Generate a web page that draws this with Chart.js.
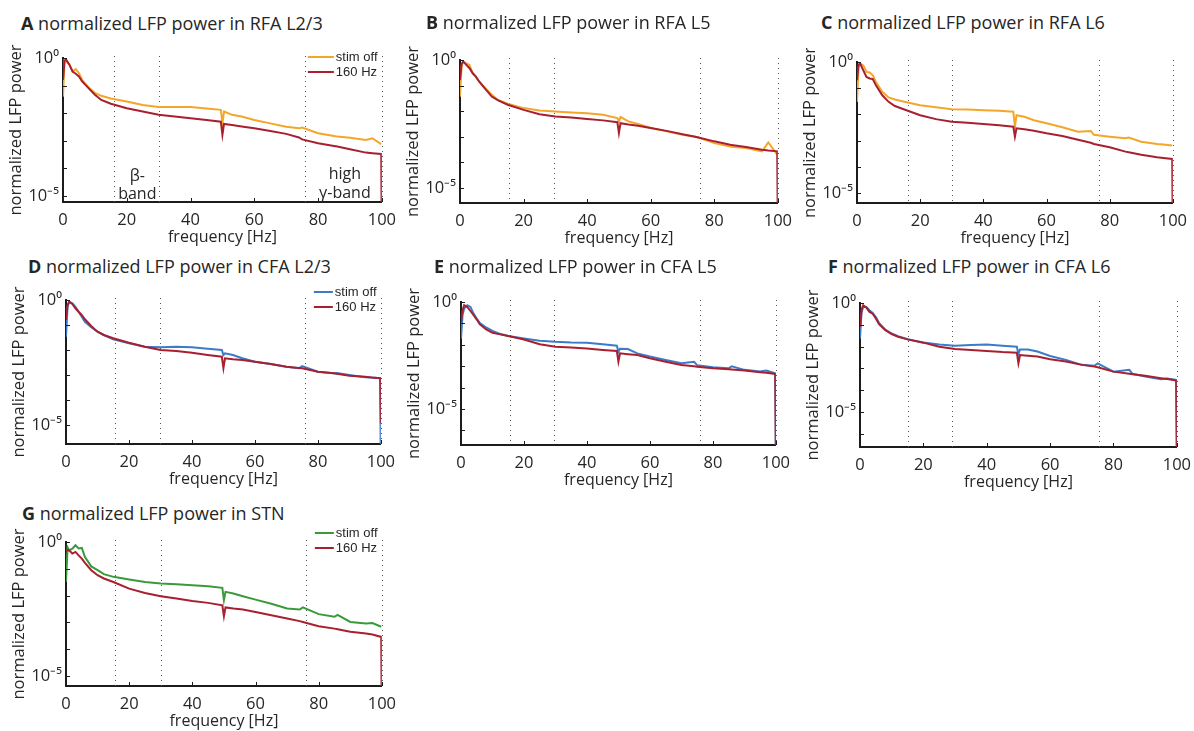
<!DOCTYPE html>
<html>
<head>
<meta charset="utf-8">
<script src="https://cdn.jsdelivr.net/npm/chart.js@4.4.1/dist/chart.umd.min.js"></script>
<style>
  body { margin: 0; background: #fff; width: 1194px; height: 731px; position: relative; overflow: hidden; font-family: 'Open Sans', sans-serif; }
  .ttl { position: absolute; font-size: 18px; line-height: 18px; color: #262626; white-space: nowrap; }
  .ttl b { font-weight: 700; }
  canvas { position: absolute; }
</style>
</head>
<body>
<script>
// frequency grid of the spectra (Hz)
const freq = [0, 0.5, 1, 2, 3, 4, 5, 6, 8, 10, 12, 15, 20, 25, 30, 35, 40, 45, 49.5, 50, 50.5, 53, 56, 60, 65, 70, 74, 75, 80, 85, 86, 90, 95, 97, 99.8, 100];

// log10 of normalized LFP power, one value per freq entry
const rfaL23Off  = [-1.40, -0.05, -0.12, -0.24, -0.49, -0.40, -0.55, -0.79, -1.06, -1.27, -1.37, -1.47, -1.58, -1.70, -1.78, -1.78, -1.78, -1.83, -1.88, -2.37, -1.94, -2.06, -2.12, -2.25, -2.37, -2.49, -2.55, -2.52, -2.73, -2.83, -2.85, -2.89, -2.97, -2.91, -3.12, null];
const rfaL23Stim = [-0.79, -0.10, -0.06, -0.24, -0.49, -0.57, -0.67, -0.85, -1.09, -1.33, -1.52, -1.66, -1.82, -1.94, -2.06, -2.12, -2.18, -2.25, -2.31, -2.79, -2.39, -2.43, -2.48, -2.55, -2.65, -2.75, -2.88, -2.95, -3.09, -3.19, -3.21, -3.31, -3.43, -3.45, -3.48, -7];
const rfaL5Off   = [-1.43, -0.26, -0.06, -0.13, -0.19, -0.52, -0.65, -0.84, -1.10, -1.36, -1.56, -1.71, -1.88, -1.97, -2.01, -2.05, -2.08, -2.14, -2.27, -2.40, -2.23, -2.40, -2.50, -2.66, -2.79, -2.92, -3.00, -3.03, -3.25, -3.38, -3.40, -3.44, -3.57, -3.22, -3.70, null];
const rfaL5Stim  = [-0.78, -0.15, -0.06, -0.19, -0.32, -0.52, -0.65, -0.84, -1.14, -1.43, -1.58, -1.75, -1.95, -2.12, -2.21, -2.25, -2.31, -2.36, -2.43, -2.86, -2.47, -2.52, -2.57, -2.66, -2.77, -2.90, -3.00, -3.03, -3.18, -3.31, -3.33, -3.40, -3.51, -3.54, -3.57, -7];
const rfaL6Off   = [-1.52, -0.19, -0.06, -0.13, -0.38, -0.40, -0.51, -0.76, -1.14, -1.35, -1.43, -1.52, -1.65, -1.73, -1.80, -1.81, -1.84, -1.86, -1.90, -2.47, -2.03, -2.09, -2.22, -2.34, -2.49, -2.66, -2.63, -2.78, -2.85, -2.91, -2.88, -3.04, -3.13, -3.15, -3.19, null];
const rfaL6Stim  = [-0.70, -0.10, -0.06, -0.32, -0.57, -0.63, -0.65, -0.89, -1.27, -1.52, -1.68, -1.81, -2.03, -2.18, -2.28, -2.32, -2.37, -2.41, -2.47, -2.85, -2.53, -2.57, -2.62, -2.72, -2.82, -2.97, -3.08, -3.13, -3.25, -3.42, -3.44, -3.54, -3.63, -3.66, -3.70, -7];
const cfaL23Off  = [-1.47, -0.27, -0.07, -0.13, -0.27, -0.47, -0.67, -0.87, -1.09, -1.27, -1.40, -1.57, -1.73, -1.87, -1.89, -1.87, -1.89, -1.95, -2.00, -2.20, -2.13, -2.20, -2.33, -2.47, -2.56, -2.67, -2.73, -2.64, -2.87, -2.93, -2.92, -3.00, -3.09, -3.10, -3.13, -7];
const cfaL23Stim = [-0.80, -0.20, -0.07, -0.16, -0.33, -0.47, -0.60, -0.77, -1.04, -1.27, -1.40, -1.53, -1.71, -1.87, -2.00, -2.04, -2.11, -2.20, -2.27, -2.73, -2.33, -2.37, -2.40, -2.47, -2.56, -2.67, -2.72, -2.73, -2.87, -2.93, -2.95, -3.03, -3.07, -3.10, -3.13, -4.93];
const cfaL5Off   = [-1.70, -0.60, -0.31, -0.15, -0.23, -0.54, -0.77, -0.98, -1.19, -1.35, -1.47, -1.59, -1.70, -1.81, -1.86, -1.89, -1.90, -1.97, -2.04, -2.32, -2.18, -2.20, -2.40, -2.55, -2.71, -2.86, -2.79, -2.95, -3.05, -3.10, -3.00, -3.17, -3.25, -3.20, -3.33, -7];
const cfaL5Stim  = [-0.93, -0.40, -0.15, -0.23, -0.42, -0.62, -0.82, -1.04, -1.28, -1.44, -1.50, -1.59, -1.75, -1.97, -2.09, -2.12, -2.17, -2.24, -2.29, -2.79, -2.40, -2.44, -2.48, -2.63, -2.79, -2.94, -3.00, -3.02, -3.10, -3.14, -3.15, -3.20, -3.28, -3.31, -3.36, -7];
const cfaL6Off   = [-1.63, -0.45, -0.18, -0.18, -0.33, -0.46, -0.64, -0.91, -1.22, -1.40, -1.52, -1.66, -1.81, -1.90, -1.96, -1.93, -1.91, -1.96, -2.01, -2.34, -2.13, -2.13, -2.23, -2.43, -2.61, -2.84, -2.88, -2.77, -3.15, -3.07, -3.25, -3.37, -3.50, -3.47, -3.53, -7];
const cfaL6Stim  = [-1.09, -0.30, -0.11, -0.21, -0.41, -0.49, -0.71, -0.97, -1.25, -1.43, -1.55, -1.67, -1.82, -2.01, -2.11, -2.16, -2.20, -2.25, -2.28, -2.77, -2.39, -2.42, -2.46, -2.58, -2.69, -2.84, -2.92, -2.95, -3.15, -3.25, -3.27, -3.34, -3.45, -3.49, -3.56, -7];
const stnOff     = [-1.49, -0.20, -0.31, -0.25, -0.12, -0.24, -0.22, -0.56, -0.91, -1.05, -1.20, -1.30, -1.40, -1.49, -1.55, -1.58, -1.61, -1.65, -1.71, -2.17, -1.86, -1.92, -2.02, -2.15, -2.30, -2.48, -2.52, -2.44, -2.69, -2.79, -2.72, -2.98, -3.04, -3.02, -3.16, null];
const stnStim    = [-0.31, -0.30, -0.31, -0.43, -0.37, -0.50, -0.62, -0.78, -1.05, -1.24, -1.36, -1.49, -1.74, -1.90, -2.02, -2.11, -2.20, -2.27, -2.36, -2.77, -2.44, -2.48, -2.52, -2.61, -2.73, -2.85, -2.95, -2.98, -3.14, -3.23, -3.25, -3.35, -3.41, -3.45, -3.54, -7];

// beta band and high gamma band edges (Hz), dotted lines
const bandsA = [16, 30, 76, 100];
const bandsB = [15.5, 29.5, 75.5, 100];
const bandsC = [16, 30, 76.5, 100];
const bandsD = [15.5, 30, 76, 100];
const bandsE = [15.5, 29.5, 76, 100];
const bandsF = [15, 29, 75.5, 100];
const bandsG = [15.5, 30, 76, 100];

const xTicks = [0, 20, 40, 60, 80, 100];
const yTickLabels = { '0': '10⁰', '-5': '10⁻⁵' };
const seriesNames = ['stim off', '160 Hz'];

const RED = '#a8202f', ORANGE = '#f4a62a', BLUE = '#3b7bc8', GREEN = '#3a9a3a';
const AXIS = '#1c1c1c', TXT = '#262626';
const FONT = "'Open Sans', sans-serif";
const yW = 57, xH = 45, padT = 14, padR = 22;

// box = [left, top(10^0), right, bottom] of each plot area
const panels = [
  { tag: 'A', title: 'normalized LFP power in RFA L2/3', off: rfaL23Off, stim: rfaL23Stim, color: ORANGE, bands: bandsA,
    box: [63, 58, 382, 202], yMin: -5.22, titleAt: [21, 14], legend: { len: 26, dy: -1 }, bandNames: true },
  { tag: 'B', title: 'normalized LFP power in RFA L5', off: rfaL5Off, stim: rfaL5Stim, color: ORANGE, bands: bandsB,
    box: [460, 60, 778, 203], yMin: -5.59, titleAt: [426, 13] },
  { tag: 'C', title: 'normalized LFP power in RFA L6', off: rfaL6Off, stim: rfaL6Stim, color: ORANGE, bands: bandsC,
    box: [857, 62, 1173, 203], yMin: -5.38, titleAt: [821, 13] },
  { tag: 'D', title: 'normalized LFP power in CFA L2/3', off: cfaL23Off, stim: cfaL23Stim, color: BLUE, bands: bandsD,
    box: [66, 300, 381, 444], yMin: -5.76, titleAt: [28, 257], legend: { len: 19, dy: -8 } },
  { tag: 'E', title: 'normalized LFP power in CFA L5', off: cfaL5Off, stim: cfaL5Stim, color: BLUE, bands: bandsE,
    box: [461, 302, 776, 445], yMin: -6.68, titleAt: [434, 257] },
  { tag: 'F', title: 'normalized LFP power in CFA L6', off: cfaL6Off, stim: cfaL6Stim, color: BLUE, bands: bandsF,
    box: [860, 303, 1177, 447], yMin: -6.61, titleAt: [828, 257] },
  { tag: 'G', title: 'normalized LFP power in STN', off: stnOff, stim: stnStim, color: GREEN, bands: bandsG,
    box: [66, 542, 382, 686], yMin: -5.37, titleAt: [22, 504], legend: { len: 19, dy: -9 } }
];

function toPoints(logs) {
  return logs.map((v, i) => ({ x: freq[i], y: v === null ? null : Math.pow(10, v) }));
}

function line(ctx, x1, y1, x2, y2) {
  ctx.beginPath(); ctx.moveTo(x1, y1); ctx.lineTo(x2, y2); ctx.stroke();
}

// dotted band edges, inward MATLAB-style ticks, legend and band names
function decor(p) {
  return {
    id: 'decor' + p.tag,
    beforeDatasetsDraw(chart) {
      const { ctx, chartArea: a, scales: { x } } = chart;
      ctx.save();
      ctx.strokeStyle = '#555';
      ctx.lineWidth = 1;
      ctx.setLineDash([1, 4]);
      p.bands.forEach(f => {
        const px = Math.round(x.getPixelForValue(f)) + 0.5;
        line(ctx, px, a.top - 2, px, a.bottom);
      });
      ctx.restore();
    },
    afterDatasetsDraw(chart) {
      const { ctx, chartArea: a, scales: { x, y } } = chart;
      ctx.save();
      ctx.strokeStyle = AXIS;
      ctx.lineWidth = 1;
      for (let e = 0; e >= p.yMin; e--) {
        const py = Math.round(y.getPixelForValue(Math.pow(10, e))) + 0.5;
        line(ctx, a.left, py, a.left + 4, py);
      }
      xTicks.forEach(v => {
        const px = Math.round(x.getPixelForValue(v)) + 0.5;
        line(ctx, px, a.bottom, px, a.bottom - 4);
      });

      if (p.legend) {
        const tx = a.right - 46;
        ctx.font = "13px 'Liberation Sans', Arial, sans-serif";
        ctx.textBaseline = 'middle';
        ctx.textAlign = 'left';
        ctx.lineWidth = 2;
        [[seriesNames[0], p.color], [seriesNames[1], RED]].forEach(([name, col], i) => {
          const ly = a.top + p.legend.dy + i * 15;
          ctx.strokeStyle = col;
          line(ctx, tx - 2 - p.legend.len, ly, tx - 2, ly);
          ctx.fillStyle = TXT;
          ctx.fillText(name, tx, ly + 0.5);
        });
      }

      if (p.bandNames) {
        ctx.font = "16px " + FONT;
        ctx.fillStyle = TXT;
        ctx.textAlign = 'center';
        ctx.textBaseline = 'middle';
        const bx = x.getPixelForValue(23.3), gx = x.getPixelForValue(88.4);
        ctx.fillText('β-', bx, a.bottom - 26);
        ctx.fillText('band', bx, a.bottom - 8);
        ctx.fillText('high', gx, a.bottom - 28);
        ctx.fillText('γ-band', gx, a.bottom - 9);
      }
      ctx.restore();
    }
  };
}

panels.forEach(p => {
  const [L, T, R, B] = p.box;
  const cv = document.createElement('canvas');
  cv.width = R - L + yW + padR;
  cv.height = B - T + padT + xH;
  cv.style.left = (L - yW) + 'px';
  cv.style.top = (T - padT) + 'px';
  document.body.appendChild(cv);

  const t = document.createElement('div');
  t.className = 'ttl';
  t.style.left = p.titleAt[0] + 'px';
  t.style.top = p.titleAt[1] + 'px';
  t.innerHTML = '<b>' + p.tag + '</b> ' + p.title;
  document.body.appendChild(t);

  new Chart(cv, {
    type: 'line',
    data: {
      datasets: [
        { label: seriesNames[1], data: toPoints(p.stim), borderColor: RED, order: 0 },
        { label: seriesNames[0], data: toPoints(p.off), borderColor: p.color, order: 1 }
      ]
    },
    options: {
      responsive: false,
      animation: false,
      devicePixelRatio: 1,
      layout: { padding: { top: padT, right: padR, left: 0, bottom: 0 } },
      elements: { point: { radius: 0 }, line: { borderWidth: 2, tension: 0 } },
      plugins: { legend: { display: false }, tooltip: { enabled: false } },
      scales: {
        x: {
          type: 'linear', min: 0, max: 100,
          grid: { display: false, drawTicks: false },
          border: { display: true, color: AXIS, width: 2 },
          afterBuildTicks: s => { s.ticks = xTicks.map(v => ({ value: v })); },
          afterFit: s => { s.height = xH; },
          ticks: { padding: 8, color: TXT, font: { family: FONT, size: 16.5 }, maxRotation: 0, autoSkip: false },
          title: { display: true, text: 'frequency [Hz]', color: TXT, font: { family: FONT, size: 16 }, padding: 0 }
        },
        y: {
          type: 'logarithmic', min: Math.pow(10, p.yMin), max: 1,
          grid: { display: false, drawTicks: false },
          border: { display: true, color: AXIS, width: 2 },
          afterBuildTicks: s => {
            const t = [];
            for (let e = 0; e >= p.yMin; e--) t.push({ value: Math.pow(10, e) });
            s.ticks = t;
          },
          afterFit: s => { s.width = yW; },
          ticks: {
            padding: 4, color: TXT, font: { family: FONT, size: 16.5 }, autoSkip: false,
            callback: v => yTickLabels[Math.round(Math.log10(v))] || ''
          },
          title: { display: true, text: 'normalized LFP power', color: TXT, font: { family: FONT, size: 16.5 }, padding: 0 }
        }
      }
    },
    plugins: [decor(p)]
  });
});
</script>
</body>
</html>
